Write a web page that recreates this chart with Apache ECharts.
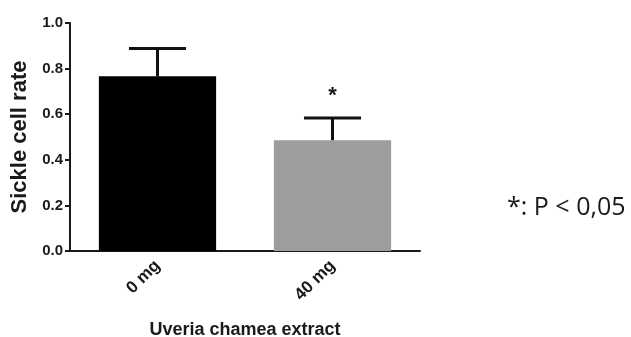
<!DOCTYPE html>
<html>
<head>
<meta charset="utf-8">
<script src="https://cdn.jsdelivr.net/npm/echarts@6/dist/echarts.min.js"></script>
<style>
html,body{margin:0;padding:0;background:#fff;}
#chart{width:631px;height:337px;}
</style>
</head>
<body>
<div id="chart"></div>
<script>
const categories = ['0 mg', '40 mg'];
const means = [0.766, 0.486];
const errors = [0.122, 0.097];
const marks = ['', '*'];
const barColors = ['#000000', '#9d9d9f'];
const yTicks = [0, 0.2, 0.4, 0.6, 0.8, 1.0];

const chart = echarts.init(document.getElementById('chart'));
const boldFont = 'Liberation Sans';

chart.setOption({
  animation: false,
  backgroundColor: '#ffffff',
  grid: { left: 70, right: 211, top: 23, bottom: 86, containLabel: false, outerBoundsMode: 'none' },
  xAxis: {
    type: 'category',
    data: categories,
    name: 'Uveria chamea extract',
    nameLocation: 'middle',
    nameGap: 70,
    nameTextStyle: { fontFamily: boldFont, fontWeight: 'bold', fontSize: 18, color: '#1a1a1a' },
    axisLine: { lineStyle: { color: '#1a1a1a', width: 2 } },
    axisTick: { alignWithLabel: true, length: 7, lineStyle: { color: '#1a1a1a', width: 2 } },
    axisLabel: { rotate: 45, fontFamily: boldFont, fontWeight: 'bold', fontSize: 17, color: '#1a1a1a', margin: 12 }
  },
  yAxis: {
    type: 'value',
    min: 0, max: 1, interval: 0.2,
    name: 'Sickle cell rate',
    nameLocation: 'middle',
    nameGap: 38,
    nameRotate: 90,
    nameTextStyle: { fontFamily: boldFont, fontWeight: 'bold', fontSize: 22, color: '#1a1a1a' },
    splitLine: { show: false },
    axisLine: { show: true, lineStyle: { color: '#1a1a1a', width: 2 } },
    axisTick: { show: true, length: 5, lineStyle: { color: '#1a1a1a', width: 2 } },
    axisLabel: {
      fontFamily: boldFont, fontWeight: 'bold', fontSize: 15, color: '#1a1a1a', margin: 7,
      formatter: v => yTicks.includes(Math.round(v * 10) / 10) ? v.toFixed(1) : ''
    }
  },
  series: [
    {
      type: 'bar',
      barWidth: '67%',
      data: means.map((v, i) => ({ value: v, itemStyle: { color: barColors[i] } })),
      z: 2
    },
    {
      type: 'custom',
      z: 3,
      data: means.map((m, i) => [i, m, m + errors[i], marks[i]]),
      renderItem: function (params, api) {
        const top = api.coord([api.value(0), api.value(2)]);
        const base = api.coord([api.value(0), api.value(1)]);
        const band = api.size([1, 0])[0];
        const hw = band * 0.163;
        const children = [
          { type: 'line', shape: { x1: base[0], y1: base[1], x2: top[0], y2: top[1] },
            style: { stroke: '#111', lineWidth: 3 } },
          { type: 'line', shape: { x1: top[0] - hw, y1: top[1], x2: top[0] + hw, y2: top[1] },
            style: { stroke: '#111', lineWidth: 3 } }
        ];
        const mk = marks[params.dataIndex];
        if (mk) {
          children.push({ type: 'text', x: top[0], y: top[1] - 22,
            style: { text: mk, fontFamily: boldFont, fontWeight: 'bold', fontSize: 22, fill: '#1a1a1a',
              align: 'center', verticalAlign: 'middle' } });
        }
        return { type: 'group', children: children };
      }
    }
  ],
  graphic: [
    { type: 'text', left: 507, top: 195,
      style: { text: '*: P < 0,05', fontFamily: 'Open Sans', fontSize: 25, fill: '#1a1a1a' } }
  ]
});
</script>
</body>
</html>
